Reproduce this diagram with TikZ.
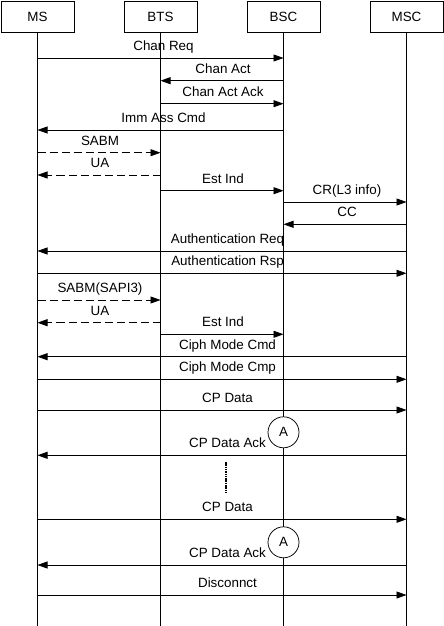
\documentclass[tikz,border=0pt]{standalone}
\usepackage{fontspec}
\setmainfont{Liberation Sans}
\usetikzlibrary{arrows.meta}

\tikzset{
  entity/.style={draw, line width=0.75bp, minimum width=73bp, minimum height=31bp, inner sep=0pt, font=\fontsize{13.4bp}{15bp}\selectfont},
  lifeline/.style={line width=0.75bp},
  msg/.style={-{Triangle[length=10bp,width=7bp]}, line width=0.75bp},
  lapd/.style={msg, dash pattern=on 8bp off 4bp},
  lbl/.style={anchor=base, yshift=7.5bp, inner sep=0pt, font=\fontsize{13.4bp}{15bp}\selectfont},
  mark A/.style={draw, fill=white, circle, line width=0.75bp, minimum size=31bp, inner sep=0pt, font=\fontsize{13.4bp}{15bp}\selectfont}
}

\begin{document}
\begin{tikzpicture}[x=1bp, y=-1bp]
        \useasboundingbox (0,0) rectangle (444,626);

        % network elements
            \node[entity] (ms)  at (37.5,16.5)  {MS};
            \node[entity] (bts) at (160.5,16.5) {BTS};
            \node[entity] (bsc) at (283.5,16.5) {BSC};
            \node[entity] (msc) at (406.5,16.5) {MSC};

        % lifelines
            \coordinate (ms-end)  at (37.5,626);
            \coordinate (bts-end) at (160.5,626);
            \coordinate (bsc-end) at (283.5,626);
            \coordinate (msc-end) at (406.5,626);
            \draw[lifeline] (ms)  -- (ms-end);
            \draw[lifeline] (bts) -- (bts-end);
            \draw[lifeline] (bsc) -- (bsc-end);
            \draw[lifeline] (msc) -- (msc-end);

        % channel setup
            \draw[msg]  (ms |- 0,58)    -- node[lbl, xshift=3bp] (l1) {Chan Req} (bsc |- 0,58);
            \draw[msg]  (bsc |- 0,80.7) -- node[lbl, xshift=1bp] (l2) {Chan Act} (bts |- 0,80.7);
            \draw[msg]  (bts |- 0,103.7) -- node[lbl, xshift=1bp] (l3) {Chan Act Ack} (bsc |- 0,103.7);
            \draw[msg]  (bsc |- 0,130)  -- node[lbl, xshift=3bp] (l4) {Imm Ass Cmd} (ms |- 0,130);
            \draw[lapd] (ms |- 0,152.7) -- node[lbl, xshift=1bp] (l5) {SABM} (bts |- 0,152.7);
            \draw[lapd] (bts |- 0,175)  -- node[lbl, xshift=1bp] (l6) {UA} (ms |- 0,175);
            \draw[msg]  (bts |- 0,190.7) -- node[lbl, xshift=1bp] (l7) {Est Ind} (bsc |- 0,190.7);
            \draw[msg]  (bsc |- 0,202)  -- node[lbl, xshift=2bp] (l8) {CR(L3 info)} (msc |- 0,202);
            \draw[msg]  (msc |- 0,224.3) -- node[lbl, xshift=2bp] (l9) {CC} (bsc |- 0,224.3);

        % authentication
            \draw[msg]  (msc |- 0,251)  -- node[lbl, xshift=5.5bp] (l10) {Authentication Req} (ms |- 0,251);
            \draw[msg]  (ms |- 0,273.3) -- node[lbl, xshift=5.5bp] (l11) {Authentication Rsp} (msc |- 0,273.3);
            \draw[lapd] (ms |- 0,300)   -- node[lbl, xshift=1bp] (l12) {SABM(SAPI3)} (bts |- 0,300);
            \draw[lapd] (bts |- 0,322.7) -- node[lbl, xshift=1bp] (l13) {UA} (ms |- 0,322.7);
            \draw[msg]  (bts |- 0,334.3) -- node[lbl, xshift=1bp] (l14) {Est Ind} (bsc |- 0,334.3);

        % ciphering
            \draw[msg]  (msc |- 0,356.7) -- node[lbl, xshift=5.5bp] (l15) {Ciph Mode Cmd} (ms |- 0,356.7);
            \draw[msg]  (ms |- 0,379.3) -- node[lbl, xshift=5.5bp] (l16) {Ciph Mode Cmp} (msc |- 0,379.3);

        % short message data
            \draw[msg]  (ms |- 0,410)   -- node[lbl, xshift=5.5bp] (l17) {CP Data} (msc |- 0,410);
            \node[mark A] (a1) at (bsc |- 0,432.3) {A};
            \draw[msg]  (msc |- 0,455.3) -- node[lbl, xshift=5.5bp] (l18) {CP Data Ack} (ms |- 0,455.3);
            \coordinate (dots-top) at (226,462);
            \coordinate (dots-bot) at (226,493);
            \draw[line width=1.1bp, dash pattern=on 1.5bp off 0.8bp] (dots-top) -- (dots-bot);
            \draw[msg]  (ms |- 0,519.3) -- node[lbl, xshift=5.5bp] (l19) {CP Data} (msc |- 0,519.3);
            \node[mark A] (a2) at (bsc |- 0,542.3) {A};
            \draw[msg]  (msc |- 0,565)  -- node[lbl, xshift=5.5bp] (l20) {CP Data Ack} (ms |- 0,565);
            \draw[msg]  (ms |- 0,595)   -- node[lbl, xshift=5.5bp] (l21) {Disconnct} (msc |- 0,595);
        \end{tikzpicture}
\end{document}
